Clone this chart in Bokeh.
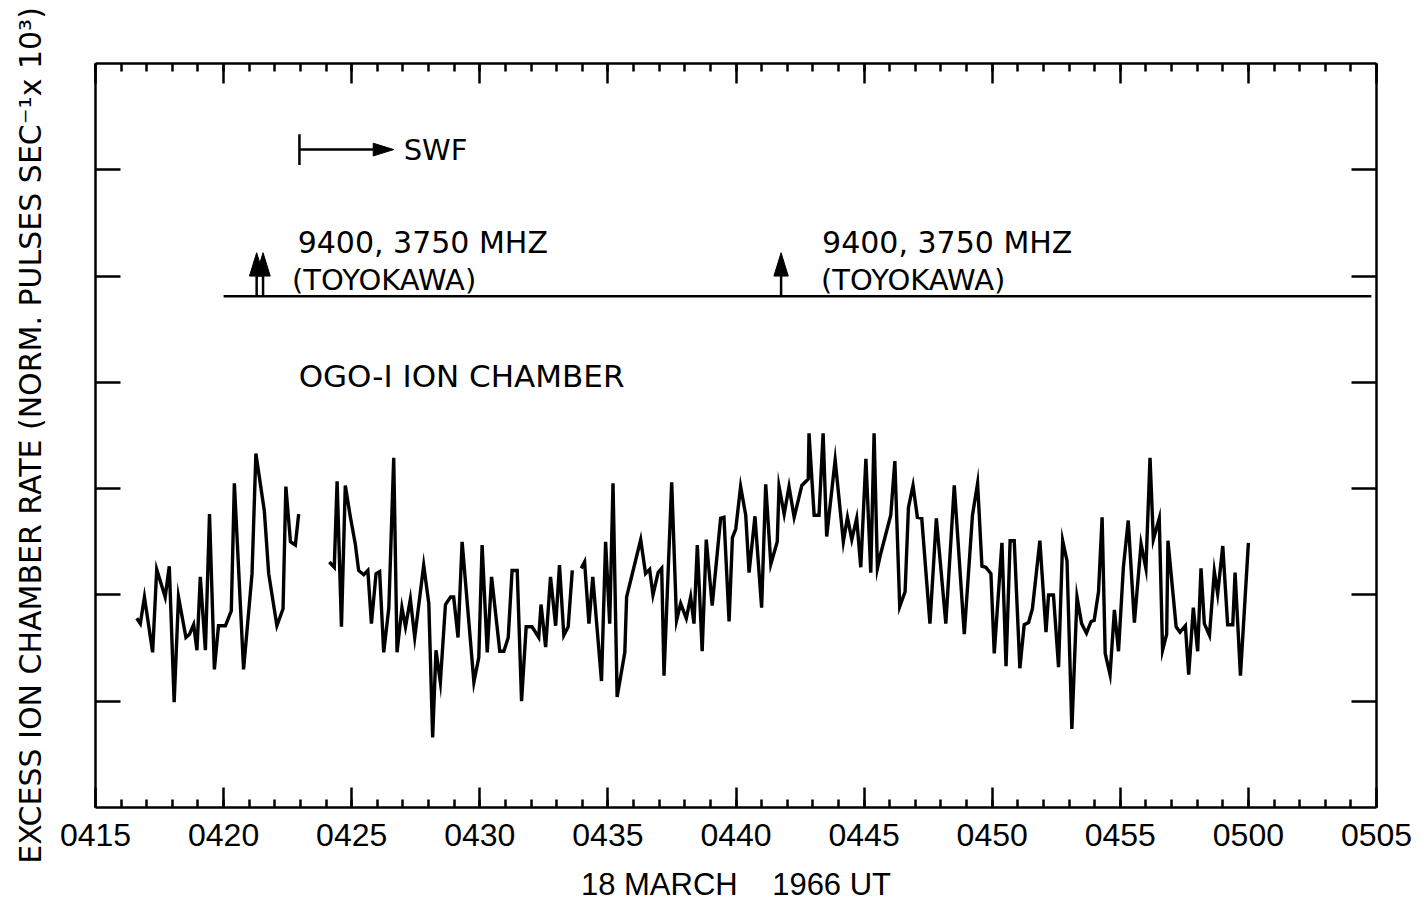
from bokeh.plotting import figure
from bokeh.models import LinearAxis, SingleIntervalTicker, FixedTicker, Range1d, Label
from bokeh.embed import file_html
from bokeh.resources import INLINE

# ---------------- data (time in minutes after 04:00 UT; rate in axis units) -------------
seg_a_time = [16.61, 16.75, 16.91, 17.23, 17.39, 17.72, 17.88, 18.07, 18.24, 18.53,
              18.67, 18.83, 18.96, 19.09, 19.29, 19.45, 19.64, 19.80, 20.07, 20.30,
              20.42, 20.78, 21.11, 21.26, 21.59, 21.76, 22.08, 22.32, 22.43, 22.61,
              22.80, 22.93]
seg_a_rate = [1.78, 1.73, 1.98, 1.46, 2.24, 1.98, 2.27, 0.99, 1.98, 1.60,
              1.63, 1.72, 1.48, 2.17, 1.48, 2.76, 1.30, 1.71, 1.71, 1.85,
              3.05, 1.30, 2.20, 3.33, 2.79, 2.20, 1.71, 1.87, 3.02, 2.50,
              2.47, 2.76]

seg_b_time = [24.13, 24.32, 24.43, 24.60, 24.75, 24.95, 25.14, 25.27, 25.47, 25.63,
              25.77, 25.95, 26.09, 26.25, 26.45, 26.64, 26.77, 26.96, 27.10, 27.29,
              27.46, 27.81, 28.01, 28.16, 28.29, 28.46, 28.66, 28.86, 28.98, 29.15,
              29.31, 29.77, 29.96, 30.09, 30.29, 30.46, 30.78, 30.94, 31.11, 31.26,
              31.46, 31.63, 31.81, 32.04, 32.30, 32.39, 32.57, 32.76, 32.96, 33.11,
              33.28, 33.45, 33.61]
seg_b_rate = [2.31, 2.26, 3.07, 1.70, 3.03, 2.73, 2.48, 2.23, 2.19, 2.23,
              1.73, 2.20, 2.22, 1.46, 1.88, 3.29, 1.46, 1.88, 1.70, 1.96,
              1.60, 2.28, 1.92, 0.66, 1.48, 1.18, 1.91, 1.98, 1.98, 1.60,
              2.50, 1.18, 1.41, 2.47, 1.46, 2.17, 1.47, 1.47, 1.60, 2.23,
              2.23, 1.00, 1.70, 1.70, 1.60, 1.91, 1.51, 2.17, 1.71, 2.28,
              1.62, 1.70, 2.23]

seg_c_time = [33.96, 34.09, 34.26, 34.41, 34.75, 34.91, 35.07, 35.20, 35.36, 35.66,
              35.73, 36.28, 36.47, 36.63, 36.76, 36.96, 37.10, 37.19, 37.49, 37.68,
              37.84, 38.06, 38.23, 38.36, 38.49, 38.68, 38.84, 39.07, 39.40, 39.53,
              39.73, 39.86, 39.99, 40.18, 40.38, 40.51, 40.74, 41.00, 41.16, 41.36,
              41.61, 41.68, 41.88, 42.07, 42.27, 42.57, 42.82, 42.85, 43.05, 43.24,
              43.40, 43.54, 43.87, 44.19, 44.35, 44.52, 44.71, 44.87, 45.07, 45.26,
              45.39, 45.52, 45.65, 46.04, 46.20, 46.39, 46.60, 46.73, 46.91, 47.08,
              47.25, 47.57, 47.82, 48.19, 48.52, 48.91, 49.23, 49.43, 49.60, 49.75,
              49.95, 50.08, 50.38, 50.54, 50.70, 50.86, 51.08, 51.25, 51.42, 51.57,
              51.86, 52.10, 52.20, 52.39, 52.59, 52.75, 52.92, 53.11, 53.31, 53.49,
              53.68, 53.86, 53.98, 54.15, 54.29, 54.41, 54.60, 54.77, 54.93, 55.12,
              55.31, 55.55, 55.81, 56.00, 56.16, 56.29, 56.52, 56.65, 56.81, 56.86,
              57.18, 57.33, 57.54, 57.67, 57.85, 58.02, 58.15, 58.28, 58.48, 58.67,
              58.80, 59.00, 59.19, 59.39, 59.48, 59.69, 60.00]
seg_c_rate = [2.25, 2.31, 1.73, 2.17, 1.19, 2.50, 1.73, 3.05, 1.04, 1.46,
              1.98, 2.52, 2.20, 2.24, 2.00, 2.21, 2.25, 1.24, 3.06, 1.76,
              1.92, 1.78, 1.98, 1.73, 2.47, 1.47, 2.52, 1.90, 2.72, 2.73,
              1.75, 2.54, 2.62, 3.02, 2.75, 2.21, 2.74, 1.88, 3.04, 2.29,
              2.50, 3.02, 2.76, 3.02, 2.73, 3.03, 3.09, 3.52, 2.75, 2.75,
              3.52, 2.55, 3.27, 2.50, 2.73, 2.52, 2.72, 2.26, 3.28, 2.21,
              3.52, 2.25, 2.39, 2.75, 3.26, 1.89, 2.03, 2.82, 3.03, 2.73,
              2.72, 1.73, 2.72, 1.73, 3.03, 1.63, 2.75, 3.05, 2.27, 2.26,
              2.20, 1.45, 2.49, 1.33, 2.51, 2.51, 1.31, 1.72, 1.74, 1.87,
              2.51, 1.65, 2.00, 2.00, 1.32, 2.51, 2.32, 0.74, 1.98, 1.73,
              1.64, 1.75, 1.76, 2.03, 2.73, 1.45, 1.25, 1.86, 1.47, 2.26,
              2.70, 1.74, 2.48, 2.25, 3.29, 2.52, 2.72, 1.48, 1.63, 2.51,
              1.70, 1.65, 1.71, 1.25, 1.88, 1.47, 2.25, 1.73, 1.62, 2.22,
              2.01, 2.46, 1.72, 1.72, 2.21, 1.24, 2.49]

x_ticks = [15, 20, 25, 30, 35, 40, 45, 50, 55, 60, 65]
x_tick_labels = ["0415", "0420", "0425", "0430", "0435", "0440",
                 "0445", "0450", "0455", "0500", "0505"]
y_ticks = [1, 2, 3, 4, 5, 6]

x_title = "18 MARCH\u00a0\u00a0\u00a0\u00a01966 UT"
y_title = "EXCESS ION CHAMBER RATE (NORM. PULSES SEC\u207b\u00b9x 10\u00b3)"

# event annotations
radio_line_start = 20.0
radio_line_end = 64.8
radio_line_level = 4.81
up_arrow_times = [21.29, 21.54, 41.76]
up_arrow_neck = 5.0
up_arrow_tip = 5.22
up_arrow_half_width = 0.28

swf_start = 22.96
swf_end = 26.64
swf_level = 6.19
swf_bar_half = 0.145
swf_head_len = 0.8
swf_head_half = 0.06

radio_label = "9400, 3750 MHZ"
station_label = "(TOYOKAWA)"
radio_label_times = [22.89, 43.36]
station_label_times = [22.67, 43.32]
radio_label_level = 5.32
station_label_level = 4.96
chamber_label = "OGO-I ION CHAMBER"
chamber_label_time = 22.93
chamber_label_level = 4.06

# ---------------- figure ----------------
p = figure(width=1424, height=904, x_range=Range1d(15, 65), y_range=Range1d(0, 7),
           output_backend="svg", toolbar_location=None,
           min_border_left=95, min_border_right=48, min_border_top=63, min_border_bottom=97)
p.outline_line_color = None
p.xgrid.grid_line_color = None
p.ygrid.grid_line_color = None
p.background_fill_color = "white"
p.border_fill_color = "white"

p.add_layout(LinearAxis(), "above")
p.add_layout(LinearAxis(), "right")

for ax in p.xaxis:
    ax.ticker = SingleIntervalTicker(interval=5, num_minor_ticks=5)
    ax.major_tick_in = 20
    ax.major_tick_out = 0
    ax.minor_tick_in = 8
    ax.minor_tick_out = 0
    ax.axis_line_width = 2.5
    ax.major_tick_line_width = 2.5
    ax.minor_tick_line_width = 2.5
    ax.axis_line_color = "black"
    ax.major_tick_line_color = "black"
    ax.minor_tick_line_color = "black"

bottom = p.below[0]
bottom.major_label_overrides = {t: lab for t, lab in zip(x_ticks, x_tick_labels)}
bottom.major_label_text_font = "Liberation Sans"
bottom.major_label_text_font_size = "32px"
bottom.major_label_text_color = "black"
bottom.major_label_standoff = 16
bottom.axis_label = x_title
bottom.axis_label_text_font = "Liberation Sans"
bottom.axis_label_text_font_size = "31px"
bottom.axis_label_text_font_style = "normal"
bottom.axis_label_text_color = "black"
bottom.axis_label_standoff = 18

top = p.above[0]
top.major_label_text_font_size = "1px"
top.major_label_text_color = None
top.major_label_standoff = 0

for ax in p.yaxis:
    ax.ticker = FixedTicker(ticks=y_ticks)
    ax.major_tick_in = 25
    ax.major_tick_out = 0
    ax.minor_tick_in = 0
    ax.minor_tick_out = 0
    ax.axis_line_width = 2.5
    ax.major_tick_line_width = 2.5
    ax.axis_line_color = "black"
    ax.major_tick_line_color = "black"
    ax.major_label_text_font_size = "1px"
    ax.major_label_text_color = None
    ax.major_label_standoff = 0

left = p.left[0]
left.axis_label = y_title
left.axis_label_text_font = "DejaVu Sans"
left.axis_label_text_font_size = "30px"
left.axis_label_text_font_style = "normal"
left.axis_label_text_color = "black"
left.axis_label_standoff = 48

# ---------------- data line ----------------
p.multi_line([seg_a_time, seg_b_time, seg_c_time], [seg_a_rate, seg_b_rate, seg_c_rate],
             line_color="black", line_width=3.4, line_join="miter")

# ---------------- radio burst line and arrows ----------------
p.segment(x0=[radio_line_start], y0=[radio_line_level], x1=[radio_line_end], y1=[radio_line_level],
          line_color="black", line_width=2.5)
p.segment(x0=up_arrow_times, y0=[radio_line_level] * len(up_arrow_times),
          x1=up_arrow_times, y1=[up_arrow_neck] * len(up_arrow_times),
          line_color="black", line_width=2.5)
p.patches(xs=[[t - up_arrow_half_width, t, t + up_arrow_half_width] for t in up_arrow_times],
          ys=[[up_arrow_neck, up_arrow_tip, up_arrow_neck] for _ in up_arrow_times],
          fill_color="black", line_color="black", line_width=1)

# ---------------- SWF arrow ----------------
p.segment(x0=[swf_start], y0=[swf_level - swf_bar_half], x1=[swf_start], y1=[swf_level + swf_bar_half],
          line_color="black", line_width=2.5)
p.segment(x0=[swf_start], y0=[swf_level], x1=[swf_end - swf_head_len], y1=[swf_level],
          line_color="black", line_width=2.5)
p.patches(xs=[[swf_end - swf_head_len, swf_end, swf_end - swf_head_len]],
          ys=[[swf_level + swf_head_half, swf_level, swf_level - swf_head_half]],
          fill_color="black", line_color="black", line_width=1)

# ---------------- text annotations ----------------
def add_text(x, y, text, size="29px"):
    p.add_layout(Label(x=x, y=y, text=text, text_font="DejaVu Sans", text_font_size=size,
                       text_color="black", text_align="left", text_baseline="middle"))

add_text(27.03, swf_level, "SWF")
for t in radio_label_times:
    add_text(t, radio_label_level, radio_label, size="30px")
for t in station_label_times:
    add_text(t, station_label_level, station_label)
add_text(chamber_label_time, chamber_label_level, chamber_label, size="31px")

open("out.html", "w").write(file_html(p, INLINE))
